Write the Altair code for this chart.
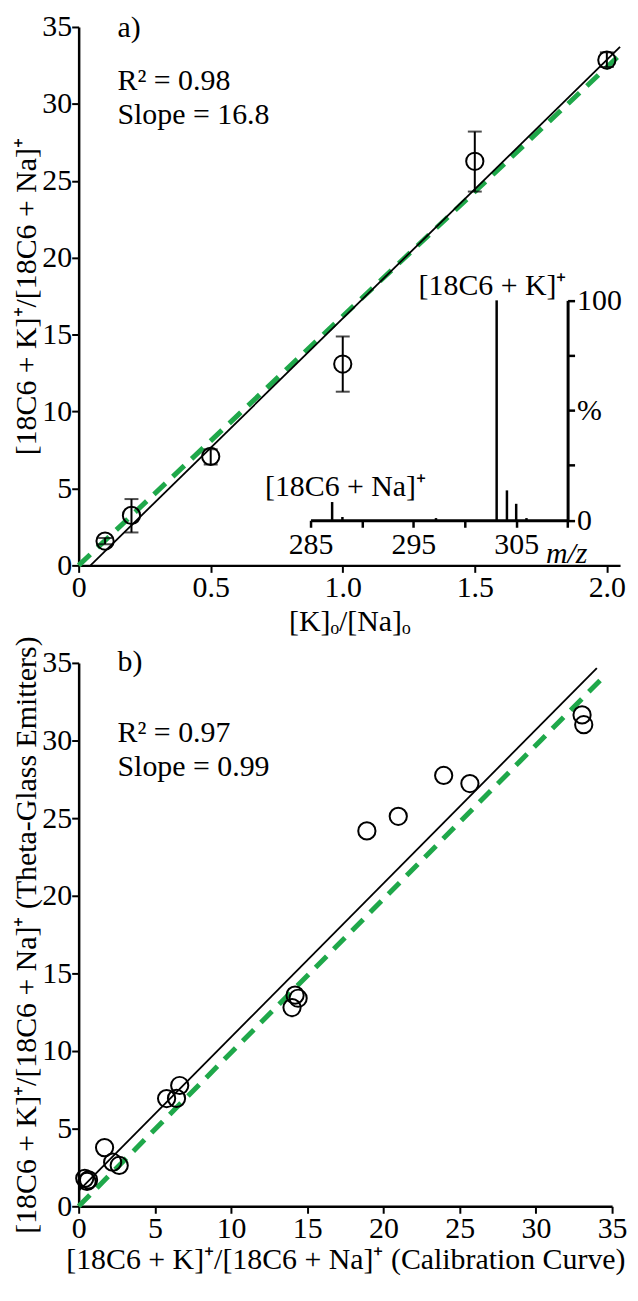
import altair as alt
import pandas as pd

FONT = "Liberation Serif"
FS = 30
GREEN = "#1fa84a"

# ---------------- panel a ----------------
a_ratio = [0.1, 0.2, 0.5, 1.0, 1.5, 2.0]
a_signal = [1.58, 3.25, 7.08, 13.09, 26.27, 32.85]
a_low = [1.38, 2.14, 6.55, 11.29, 24.30, 32.40]
a_high = [1.78, 4.31, 7.55, 14.88, 28.20, 33.35]
a_fit_x = [0.045, 2.05]
a_fit_y = [0.0, 33.7]
a_ref_x = [0.0, 2.05]
a_ref_y = [0.0, 33.2]
a_text = ["a)", "R² = 0.98", "Slope = 16.8"]
a_text_x = [0.147, 0.147, 0.147]
a_text_y = [34.35, 30.92, 28.72]

# inset mass spectrum
ms_mz = [287.1, 288.1, 297.2, 303.1, 304.1, 305.0, 306.0]
ms_int = [8.3, 1.5, 1.0, 100.0, 13.6, 7.5, 1.0]
ms_label = ["[18C6 + K]⁺", "[18C6 + Na]⁺"]
ms_label_mz = [302.7, 288.4]
ms_label_pct = [102.5, 11.2]
mz_unit = ["m/z"]
mz_unit_mz = [307.9]
mz_unit_pct = [-19.5]

# ---------------- panel b ----------------
b_calib = [0.40, 0.55, 0.65, 1.70, 2.23, 2.66, 5.77, 6.42, 6.63,
           14.2, 14.4, 14.0, 18.91, 20.97, 23.95, 25.67, 33.03, 33.14]
b_theta = [1.80, 1.60, 1.70, 3.78, 2.84, 2.63, 6.94, 6.95, 7.78,
           13.6, 13.4, 12.8, 24.18, 25.12, 27.75, 27.23, 31.65, 31.02]
b_fit_x = [0.0, 34.0]
b_fit_y = [1.0, 34.66]
b_ref_x = [0.0, 34.5]
b_ref_y = [0.0, 34.15]
b_text = ["b)", "R² = 0.97", "Slope = 0.99"]
b_text_x = [2.55, 2.55, 2.55]
b_text_y = [34.47, 29.9, 27.72]

W_TOP = 544
W_BOT = 536
H_TOP = 541
H_BOT = 546

ax_common = dict(
    domainColor="black", domainWidth=2.5, tickColor="black", tickWidth=2,
    tickSize=7, labelFont=FONT, labelFontSize=FS, labelColor="black",
    titleFont=FONT, titleFontSize=FS, titleColor="black", titleFontWeight="normal",
    grid=False, labelFlush=False, labelOverlap=False,
)


def main_layers(xdom, xvals, xlabel_expr, xtitle, ytitle, pts, fit, ref, txt, err=None,
                x_title_pad=4):
    xenc = alt.X("x:Q", scale=alt.Scale(domain=xdom, nice=False, zero=False),
                 axis=alt.Axis(values=xvals, labelExpr=xlabel_expr, title=xtitle,
                               labelPadding=0, titlePadding=x_title_pad, **ax_common))
    yenc = alt.Y("y:Q", scale=alt.Scale(domain=[0, 35], nice=False, zero=False),
                 axis=alt.Axis(values=[0, 5, 10, 15, 20, 25, 30, 35], title=ytitle,
                               labelPadding=0, titlePadding=0, **ax_common))
    layers = [
        alt.Chart(ref).mark_line(color=GREEN, strokeWidth=5, strokeDash=[16, 10])
        .encode(x=xenc, y=yenc),
        alt.Chart(fit).mark_line(color="black", strokeWidth=1.8).encode(x=xenc, y=yenc),
    ]
    if err is not None:
        layers += [
            alt.Chart(err).mark_rule(color="black", strokeWidth=2)
            .encode(x=xenc, y=yenc, y2="y2:Q"),
            alt.Chart(err).mark_tick(color="black", orient="horizontal", size=14, thickness=2)
            .encode(x=xenc, y=yenc),
            alt.Chart(err).mark_tick(color="black", orient="horizontal", size=14, thickness=2)
            .encode(x=xenc, y=alt.Y("y2:Q")),
        ]
    layers += [
        alt.Chart(pts).mark_point(shape="circle", filled=False, color="black",
                                  strokeWidth=2, size=300, opacity=1)
        .encode(x=xenc, y=yenc),
        alt.Chart(txt).mark_text(font=FONT, fontSize=FS, align="left",
                                 baseline="alphabetic", color="black")
        .encode(x=xenc, y=yenc, text="t:N"),
    ]
    return alt.layer(*layers)


# top panel
a_pts = pd.DataFrame({"x": a_ratio, "y": a_signal})
a_err = pd.DataFrame({"x": a_ratio, "y": a_low, "y2": a_high})
a_fit = pd.DataFrame({"x": a_fit_x, "y": a_fit_y})
a_ref = pd.DataFrame({"x": a_ref_x, "y": a_ref_y})
a_txt = pd.DataFrame({"x": a_text_x, "y": a_text_y, "t": a_text})

top_main = main_layers(
    [0, 2.05], [0, 0.5, 1.0, 1.5, 2.0],
    "datum.value == 0 ? '0' : format(datum.value, '.1f')",
    "[K]ₒ/[Na]ₒ", "[18C6 + K]⁺/[18C6 + Na]⁺",
    a_pts, a_fit, a_ref, a_txt, err=a_err,
)

# inset
ms_df = pd.DataFrame({"mz": ms_mz, "pct": ms_int, "base": [0] * len(ms_mz)})
ms_lab = pd.DataFrame({"mz": ms_label_mz, "pct": ms_label_pct, "t": ms_label})
ms_unit = pd.DataFrame({"mz": mz_unit_mz, "pct": mz_unit_pct, "t": mz_unit})

inset_common = dict(ax_common)
inset_common.update(domainWidth=3, tickWidth=2.5)
mz_x = alt.X("mz:Q", scale=alt.Scale(domain=[285, 310], range=[233, 491.3], nice=False, zero=False),
             axis=alt.Axis(orient="bottom", offset=-45.3, values=[285, 290, 295, 300, 305, 310],
                           labelExpr="datum.value % 10 == 5 ? format(datum.value, 'd') : ''",
                           title=None, labelPadding=2, **inset_common))
pct_y = alt.Y("pct:Q", scale=alt.Scale(domain=[0, 100], range=[495.7, 274.7], nice=False, zero=False),
              axis=alt.Axis(orient="right", offset=-52.7, values=[0, 25, 50, 75, 100],
                            labelExpr="datum.value == 0 ? '0' : datum.value == 100 ? '100' : datum.value == 50 ? '%' : ''",
                            title=None, labelPadding=2, **inset_common))
inset = alt.layer(
    alt.Chart(ms_df).mark_rule(color="black", strokeWidth=2.5).encode(x=mz_x, y=pct_y, y2="base:Q"),
    alt.Chart(ms_lab).mark_text(font=FONT, fontSize=FS, align="center", baseline="alphabetic",
                                color="black").encode(x=mz_x, y=pct_y, text="t:N"),
    alt.Chart(ms_unit).mark_text(font=FONT, fontSize=FS, align="left", baseline="alphabetic",
                                 fontStyle="italic", color="black").encode(x=mz_x, y=pct_y, text="t:N"),
)

top = alt.layer(top_main, inset).resolve_scale(x="independent", y="independent").properties(
    width=W_TOP, height=H_TOP)

# bottom panel
b_pts = pd.DataFrame({"x": b_calib, "y": b_theta})
b_fit = pd.DataFrame({"x": b_fit_x, "y": b_fit_y})
b_ref = pd.DataFrame({"x": b_ref_x, "y": b_ref_y})
b_txt = pd.DataFrame({"x": b_text_x, "y": b_text_y, "t": b_text})

bottom = main_layers(
    [0, 35], [0, 5, 10, 15, 20, 25, 30, 35],
    "format(datum.value, 'd')",
    "[18C6 + K]⁺/[18C6 + Na]⁺ (Calibration Curve)",
    "[18C6 + K]⁺/[18C6 + Na]⁺ (Theta-Glass Emitters)",
    b_pts, b_fit, b_ref, b_txt, x_title_pad=2,
).properties(width=W_BOT, height=H_BOT)

chart = alt.vconcat(top, bottom, spacing=98, bounds="flush").properties(
    padding={"left": 3, "top": 1, "right": 0, "bottom": 0}
).configure_view(stroke=None)

chart.save("out.html", embed_options={"renderer": "svg", "actions": False})
